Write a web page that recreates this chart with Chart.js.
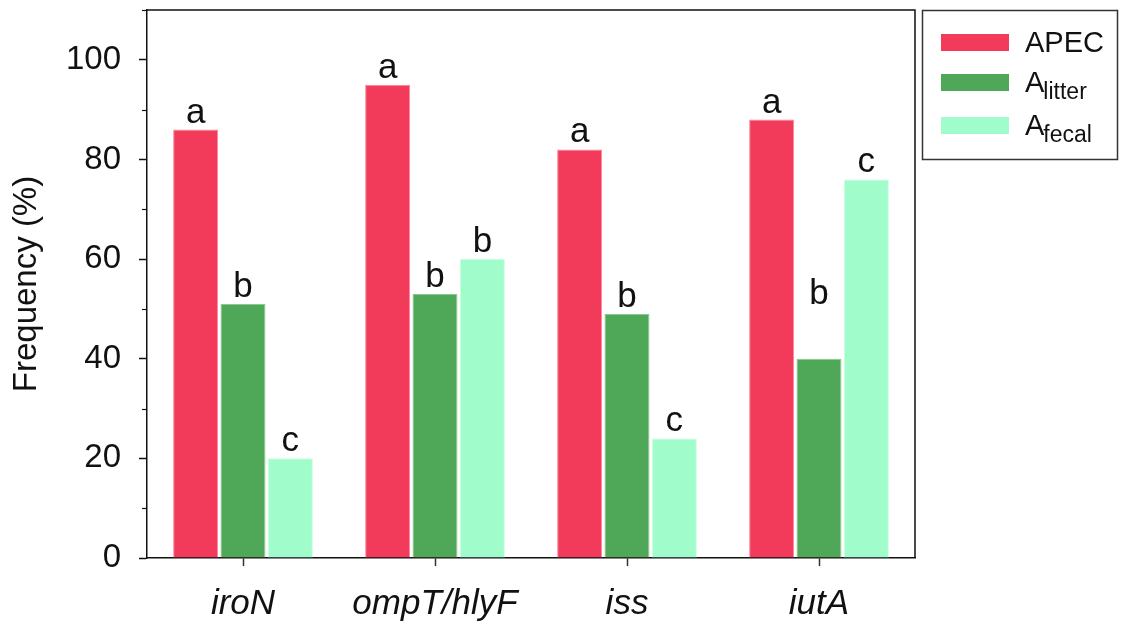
<!DOCTYPE html>
<html>
<head>
<meta charset="utf-8">
<script src="https://cdn.jsdelivr.net/npm/chart.js@4.4.1/dist/chart.umd.min.js"></script>
<style>
  html, body { margin: 0; padding: 0; background: #fff; }
  #wrap { width: 1133px; height: 625px; }
</style>
</head>
<body>
<div id="wrap"><canvas id="chart"></canvas></div>
<script>
// genes on the x axis
const genes = ['iroN', 'ompT/hlyF', 'iss', 'iutA'];

// frequency (%) per source
const apec = [86, 95, 82, 88];
const litter = [51, 53, 49, 40];
const fecal = [20, 60, 24, 76];

// significance letters above bars
const apecLetters = ['a', 'a', 'a', 'a'];
const litterLetters = ['b', 'b', 'b', 'b'];
const fecalLetters = ['c', 'b', 'c', 'c'];
// where a letter sits higher than its bar (value units), null = just above bar
const litterLetterAt = [null, null, null, 49.5];

const yTicks = [0, 20, 40, 60, 80, 100];

const FONT = '"Liberation Sans", Arial, sans-serif';

const colors = {
    apec: '#F23B5A',
    litter: '#4FA758',
    fecal: '#A1FCCB'
};

// letters over bars
const letterPlugin = {
    id: 'letters',
    afterDatasetsDraw(chart) {
        const ctx = chart.ctx;
        const y = chart.scales.y;
        ctx.save();
        ctx.font = '35px ' + FONT;
        ctx.fillStyle = '#111';
        ctx.textAlign = 'center';
        ctx.textBaseline = 'alphabetic';
        chart.data.datasets.forEach((ds, di) => {
            const meta = chart.getDatasetMeta(di);
            meta.data.forEach((bar, i) => {
                const at = ds.letterAt && ds.letterAt[i] != null ? ds.letterAt[i] : ds.data[i];
                ctx.fillText(ds.letters[i], bar.x, y.getPixelForValue(at) - 7);
            });
        });
        ctx.restore();
    }
};

// frame, minor ticks and the legend box
const framePlugin = {
    id: 'frame',
    afterDraw(chart) {
        const ctx = chart.ctx;
        const a = chart.chartArea;
        const y = chart.scales.y;
        ctx.save();
        ctx.strokeStyle = '#111';
        ctx.lineWidth = 1.5;
        ctx.beginPath();
        ctx.moveTo(a.left, a.top);
        ctx.lineTo(a.right, a.top);
        ctx.lineTo(a.right, a.bottom);
        ctx.stroke();
        // minor ticks
        ctx.lineWidth = 1.2;
        for (let v = 10; v <= 110; v += 20) {
            const py = Math.round(y.getPixelForValue(v)) + 0.5;
            ctx.beginPath();
            ctx.moveTo(a.left - 5, py);
            ctx.lineTo(a.left, py);
            ctx.stroke();
        }

        // legend
        ctx.strokeStyle = '#333';
        ctx.lineWidth = 1.5;
        ctx.strokeRect(922.5, 10.5, 195, 149);
        const rows = [34, 74, 117];
        chart.data.datasets.forEach((ds, i) => {
            ctx.fillStyle = ds.backgroundColor;
            ctx.fillRect(941, rows[i], 68, 17);
            ctx.fillStyle = '#111';
            ctx.textBaseline = 'alphabetic';
            ctx.textAlign = 'left';
            ctx.font = '29px ' + FONT;
            const base = rows[i] + 18;
            ctx.fillText(ds.mainLabel, 1025, base);
            if (ds.subLabel) {
                const w = ctx.measureText(ds.mainLabel).width;
                ctx.font = '23px ' + FONT;
                ctx.fillText(ds.subLabel, 1025 + w - 1, base + 7);
            }
        });
        ctx.restore();
    }
};

new Chart(document.getElementById('chart'), {
    type: 'bar',
    data: {
        labels: genes,
        datasets: [
            {
                label: 'APEC', mainLabel: 'APEC', subLabel: '',
                data: apec, letters: apecLetters,
                backgroundColor: colors.apec, borderColor: '#F7889A', borderWidth: 1
            },
            {
                label: 'Alitter', mainLabel: 'A', subLabel: 'litter',
                data: litter, letters: litterLetters, letterAt: litterLetterAt,
                backgroundColor: colors.litter, borderColor: '#8CC893', borderWidth: 1
            },
            {
                label: 'Afecal', mainLabel: 'A', subLabel: 'fecal',
                data: fecal, letters: fecalLetters,
                backgroundColor: colors.fecal, borderColor: '#C8FDE0', borderWidth: 1
            }
        ]
    },
    options: {
        responsive: true,
        maintainAspectRatio: false,
        animation: false,
        layout: { padding: { left: 0, right: 218, top: 10, bottom: 0 } },
        datasets: {
            bar: { categoryPercentage: 0.74, barPercentage: 0.95 }
        },
        plugins: {
            legend: { display: false },
            tooltip: { enabled: false }
        },
        scales: {
            x: {
                offset: true,
                grid: {
                    offset: false,
                    drawOnChartArea: false,
                    tickLength: 8,
                    tickWidth: 1.5,
                    tickColor: '#333'
                },
                border: { display: true, color: '#111', width: 1.5 },
                ticks: {
                    color: '#111',
                    padding: 17,
                    font: { family: FONT, size: 35, style: 'italic' },
                    maxRotation: 0
                },
                afterFit(scale) {
                    scale.height = 67;
                    scale.paddingLeft = 0;
                    scale.paddingRight = 0;
                }
            },
            y: {
                min: 0,
                max: 110,
                afterBuildTicks(scale) {
                    scale.ticks = yTicks.map(v => ({ value: v }));
                },
                grid: {
                    drawOnChartArea: false,
                    tickLength: 8,
                    tickWidth: 1.5,
                    tickColor: '#111'
                },
                border: { display: true, color: '#111', width: 1.5 },
                ticks: {
                    color: '#111',
                    padding: 18,
                    font: { family: FONT, size: 33 }
                },
                title: {
                    display: true,
                    text: 'Frequency (%)',
                    color: '#111',
                    font: { family: FONT, size: 33 },
                    padding: { top: 7, bottom: 0 }
                },
                afterFit(scale) {
                    scale.width = 147;
                    scale.paddingTop = 0;
                    scale.paddingBottom = 0;
                }
            }
        }
    },
    plugins: [letterPlugin, framePlugin]
});
</script>
</body>
</html>
